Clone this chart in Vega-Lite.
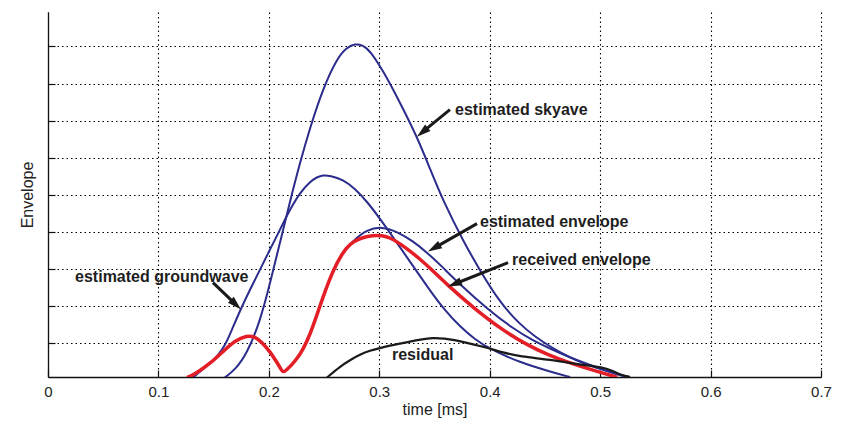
{
  "$schema": "https://vega.github.io/schema/vega-lite/v6.json",
  "width": 773,
  "height": 365,
  "autosize": {"type": "none"},
  "padding": {"left": 48, "top": 12, "right": 30, "bottom": 47},
  "background": "white",
  "config": {
    "view": {"stroke": null},
    "axis": {
      "labelFont": "Liberation Sans",
      "titleFont": "Liberation Sans",
      "labelColor": "#222",
      "titleColor": "#222",
      "titleFontWeight": "normal",
      "domainColor": "#111",
      "domainWidth": 1.3,
      "tickColor": "#111",
      "tickWidth": 1.2,
      "gridColor": "#000",
      "gridDash": [1.5, 3],
      "gridWidth": 1.1,
      "gridOpacity": 1
    }
  },
  "datasets": {
    "curves": [
      {"s": "skywave", "t": 0.1594, "v": 0.051},
      {"s": "skywave", "t": 0.1693, "v": 0.267},
      {"s": "skywave", "t": 0.1802, "v": 0.712},
      {"s": "skywave", "t": 0.1920, "v": 1.576},
      {"s": "skywave", "t": 0.2010, "v": 2.601},
      {"s": "skywave", "t": 0.2101, "v": 3.707},
      {"s": "skywave", "t": 0.2191, "v": 4.814},
      {"s": "skywave", "t": 0.2282, "v": 5.866},
      {"s": "skywave", "t": 0.2373, "v": 6.810},
      {"s": "skywave", "t": 0.2490, "v": 7.863},
      {"s": "skywave", "t": 0.2617, "v": 8.672},
      {"s": "skywave", "t": 0.2699, "v": 8.956},
      {"s": "skywave", "t": 0.2780, "v": 9.077},
      {"s": "skywave", "t": 0.2852, "v": 9.036},
      {"s": "skywave", "t": 0.2916, "v": 8.888},
      {"s": "skywave", "t": 0.3034, "v": 8.349},
      {"s": "skywave", "t": 0.3188, "v": 7.485},
      {"s": "skywave", "t": 0.3341, "v": 6.568},
      {"s": "skywave", "t": 0.3459, "v": 5.704},
      {"s": "skywave", "t": 0.3577, "v": 4.841},
      {"s": "skywave", "t": 0.3758, "v": 3.761},
      {"s": "skywave", "t": 0.3912, "v": 2.952},
      {"s": "skywave", "t": 0.4093, "v": 2.089},
      {"s": "skywave", "t": 0.4274, "v": 1.495},
      {"s": "skywave", "t": 0.4410, "v": 1.171},
      {"s": "skywave", "t": 0.4546, "v": 0.901},
      {"s": "skywave", "t": 0.4727, "v": 0.604},
      {"s": "skywave", "t": 0.4863, "v": 0.429},
      {"s": "skywave", "t": 0.4971, "v": 0.321},
      {"s": "skywave", "t": 0.5116, "v": 0.200},
      {"s": "skywave", "t": 0.5243, "v": 0.078},

      {"s": "groundwave", "t": 0.1313, "v": 0.065},
      {"s": "groundwave", "t": 0.1376, "v": 0.227},
      {"s": "groundwave", "t": 0.1467, "v": 0.443},
      {"s": "groundwave", "t": 0.1539, "v": 0.658},
      {"s": "groundwave", "t": 0.1603, "v": 0.928},
      {"s": "groundwave", "t": 0.1666, "v": 1.360},
      {"s": "groundwave", "t": 0.1739, "v": 1.873},
      {"s": "groundwave", "t": 0.1829, "v": 2.439},
      {"s": "groundwave", "t": 0.1920, "v": 2.979},
      {"s": "groundwave", "t": 0.2010, "v": 3.519},
      {"s": "groundwave", "t": 0.2101, "v": 4.058},
      {"s": "groundwave", "t": 0.2191, "v": 4.598},
      {"s": "groundwave", "t": 0.2282, "v": 5.057},
      {"s": "groundwave", "t": 0.2373, "v": 5.353},
      {"s": "groundwave", "t": 0.2436, "v": 5.475},
      {"s": "groundwave", "t": 0.2490, "v": 5.529},
      {"s": "groundwave", "t": 0.2554, "v": 5.515},
      {"s": "groundwave", "t": 0.2671, "v": 5.407},
      {"s": "groundwave", "t": 0.2780, "v": 5.165},
      {"s": "groundwave", "t": 0.2889, "v": 4.814},
      {"s": "groundwave", "t": 0.3006, "v": 4.355},
      {"s": "groundwave", "t": 0.3124, "v": 3.856},
      {"s": "groundwave", "t": 0.3278, "v": 3.195},
      {"s": "groundwave", "t": 0.3459, "v": 2.412},
      {"s": "groundwave", "t": 0.3595, "v": 1.873},
      {"s": "groundwave", "t": 0.3731, "v": 1.441},
      {"s": "groundwave", "t": 0.3867, "v": 1.090},
      {"s": "groundwave", "t": 0.4003, "v": 0.834},
      {"s": "groundwave", "t": 0.4274, "v": 0.470},
      {"s": "groundwave", "t": 0.4546, "v": 0.227},
      {"s": "groundwave", "t": 0.4727, "v": 0.078},

      {"s": "estimated", "t": 0.1259, "v": 0.065},
      {"s": "estimated", "t": 0.1304, "v": 0.119},
      {"s": "estimated", "t": 0.1376, "v": 0.254},
      {"s": "estimated", "t": 0.1467, "v": 0.443},
      {"s": "estimated", "t": 0.1585, "v": 0.766},
      {"s": "estimated", "t": 0.1693, "v": 1.063},
      {"s": "estimated", "t": 0.1802, "v": 1.198},
      {"s": "estimated", "t": 0.1874, "v": 1.171},
      {"s": "estimated", "t": 0.1938, "v": 1.009},
      {"s": "estimated", "t": 0.2010, "v": 0.766},
      {"s": "estimated", "t": 0.2074, "v": 0.470},
      {"s": "estimated", "t": 0.2101, "v": 0.335},
      {"s": "estimated", "t": 0.2128, "v": 0.186},
      {"s": "estimated", "t": 0.2164, "v": 0.281},
      {"s": "estimated", "t": 0.2210, "v": 0.416},
      {"s": "estimated", "t": 0.2255, "v": 0.577},
      {"s": "estimated", "t": 0.2309, "v": 0.820},
      {"s": "estimated", "t": 0.2373, "v": 1.225},
      {"s": "estimated", "t": 0.2436, "v": 1.765},
      {"s": "estimated", "t": 0.2508, "v": 2.385},
      {"s": "estimated", "t": 0.2581, "v": 2.952},
      {"s": "estimated", "t": 0.2662, "v": 3.411},
      {"s": "estimated", "t": 0.2762, "v": 3.761},
      {"s": "estimated", "t": 0.2889, "v": 4.058},
      {"s": "estimated", "t": 0.3025, "v": 4.139},
      {"s": "estimated", "t": 0.3160, "v": 4.004},
      {"s": "estimated", "t": 0.3305, "v": 3.748},
      {"s": "estimated", "t": 0.3432, "v": 3.438},
      {"s": "estimated", "t": 0.3550, "v": 3.114},
      {"s": "estimated", "t": 0.3731, "v": 2.574},
      {"s": "estimated", "t": 0.3975, "v": 1.927},
      {"s": "estimated", "t": 0.4211, "v": 1.387},
      {"s": "estimated", "t": 0.4392, "v": 1.063},
      {"s": "estimated", "t": 0.4546, "v": 0.847},
      {"s": "estimated", "t": 0.4727, "v": 0.604},
      {"s": "estimated", "t": 0.4971, "v": 0.335},
      {"s": "estimated", "t": 0.5180, "v": 0.119},
      {"s": "estimated", "t": 0.5270, "v": 0.078},

      {"s": "received", "t": 0.1259, "v": 0.065},
      {"s": "received", "t": 0.1304, "v": 0.119},
      {"s": "received", "t": 0.1376, "v": 0.254},
      {"s": "received", "t": 0.1467, "v": 0.443},
      {"s": "received", "t": 0.1585, "v": 0.766},
      {"s": "received", "t": 0.1693, "v": 1.063},
      {"s": "received", "t": 0.1802, "v": 1.198},
      {"s": "received", "t": 0.1874, "v": 1.171},
      {"s": "received", "t": 0.1938, "v": 1.009},
      {"s": "received", "t": 0.2010, "v": 0.766},
      {"s": "received", "t": 0.2074, "v": 0.470},
      {"s": "received", "t": 0.2101, "v": 0.335},
      {"s": "received", "t": 0.2128, "v": 0.186},
      {"s": "received", "t": 0.2164, "v": 0.281},
      {"s": "received", "t": 0.2210, "v": 0.416},
      {"s": "received", "t": 0.2255, "v": 0.577},
      {"s": "received", "t": 0.2309, "v": 0.820},
      {"s": "received", "t": 0.2373, "v": 1.225},
      {"s": "received", "t": 0.2436, "v": 1.765},
      {"s": "received", "t": 0.2508, "v": 2.385},
      {"s": "received", "t": 0.2581, "v": 2.952},
      {"s": "received", "t": 0.2662, "v": 3.411},
      {"s": "received", "t": 0.2735, "v": 3.680},
      {"s": "received", "t": 0.2825, "v": 3.829},
      {"s": "received", "t": 0.2943, "v": 3.910},
      {"s": "received", "t": 0.3025, "v": 3.896},
      {"s": "received", "t": 0.3097, "v": 3.842},
      {"s": "received", "t": 0.3188, "v": 3.680},
      {"s": "received", "t": 0.3278, "v": 3.478},
      {"s": "received", "t": 0.3369, "v": 3.262},
      {"s": "received", "t": 0.3459, "v": 3.019},
      {"s": "received", "t": 0.3613, "v": 2.574},
      {"s": "received", "t": 0.3849, "v": 1.954},
      {"s": "received", "t": 0.4120, "v": 1.333},
      {"s": "received", "t": 0.4365, "v": 0.901},
      {"s": "received", "t": 0.4546, "v": 0.658},
      {"s": "received", "t": 0.4664, "v": 0.523},
      {"s": "received", "t": 0.4971, "v": 0.227},
      {"s": "received", "t": 0.5153, "v": 0.078},

      {"s": "residual", "t": 0.2526, "v": 0.065},
      {"s": "residual", "t": 0.2644, "v": 0.362},
      {"s": "residual", "t": 0.2735, "v": 0.537},
      {"s": "residual", "t": 0.2825, "v": 0.685},
      {"s": "residual", "t": 0.2916, "v": 0.793},
      {"s": "residual", "t": 0.3006, "v": 0.861},
      {"s": "residual", "t": 0.3097, "v": 0.928},
      {"s": "residual", "t": 0.3188, "v": 0.982},
      {"s": "residual", "t": 0.3278, "v": 1.036},
      {"s": "residual", "t": 0.3369, "v": 1.090},
      {"s": "residual", "t": 0.3486, "v": 1.144},
      {"s": "residual", "t": 0.3595, "v": 1.117},
      {"s": "residual", "t": 0.3667, "v": 1.090},
      {"s": "residual", "t": 0.3821, "v": 0.982},
      {"s": "residual", "t": 0.3975, "v": 0.874},
      {"s": "residual", "t": 0.4120, "v": 0.739},
      {"s": "residual", "t": 0.4274, "v": 0.631},
      {"s": "residual", "t": 0.4546, "v": 0.550},
      {"s": "residual", "t": 0.4818, "v": 0.416},
      {"s": "residual", "t": 0.4971, "v": 0.362},
      {"s": "residual", "t": 0.5062, "v": 0.308},
      {"s": "residual", "t": 0.5125, "v": 0.227},
      {"s": "residual", "t": 0.5180, "v": 0.146},
      {"s": "residual", "t": 0.5270, "v": 0.078}
    ],
    "labels": [
      {"label": "estimated skyave", "t": 0.3686, "v": 7.296},
      {"label": "estimated envelope", "t": 0.3912, "v": 4.274},
      {"label": "received envelope", "t": 0.4202, "v": 3.249},
      {"label": "estimated groundwave", "t": 0.0245, "v": 2.790},
      {"label": "residual", "t": 0.3115, "v": 0.685}
    ],
    "arrows": [
      {"id": "sky", "t": 0.3640, "v": 7.296, "t2": 0.3390, "v2": 6.686},
      {"id": "env", "t": 0.3885, "v": 4.220, "t2": 0.3496, "v2": 3.559},
      {"id": "rec", "t": 0.4166, "v": 3.168, "t2": 0.3681, "v2": 2.590},
      {"id": "gnd", "t": 0.1494, "v": 2.628, "t2": 0.1702, "v2": 2.032}
    ]
  },
  "encoding": {
    "x": {
      "field": "t",
      "type": "quantitative",
      "scale": {"domain": [0, 0.7], "nice": false, "zero": false},
      "axis": {
        "values": [0, 0.1, 0.2, 0.3, 0.4, 0.5, 0.6, 0.7],
        "format": ".1~f",
        "grid": true,
        "tickSize": -7,
        "labelPadding": 14,
        "labelFontSize": 15,
        "labelFlush": false,
        "title": "time [ms]",
        "titleFontSize": 16,
        "titlePadding": 2
      }
    },
    "y": {
      "field": "v",
      "type": "quantitative",
      "scale": {"domain": [0.08, 9.93], "nice": false, "zero": false},
      "axis": {
        "values": [1, 2, 3, 4, 5, 6, 7, 8, 9],
        "labels": false,
        "grid": true,
        "tickSize": -7,
        "title": "Envelope",
        "titleFontSize": 16,
        "titlePadding": 12
      }
    }
  },
  "layer": [
    {
      "data": {"name": "curves"},
      "transform": [{"filter": "datum.s === 'skywave' || datum.s === 'groundwave' || datum.s === 'estimated'"}],
      "mark": {"type": "line", "interpolate": "basis", "clip": true, "color": "#2c2c8c", "strokeWidth": 2},
      "encoding": {"detail": {"field": "s"}}
    },
    {
      "data": {"name": "curves"},
      "transform": [{"filter": "datum.s === 'received'"}],
      "mark": {"type": "line", "interpolate": "basis", "clip": true, "color": "#e41e26", "strokeWidth": 3.5},
      "encoding": {}
    },
    {
      "data": {"name": "curves"},
      "transform": [{"filter": "datum.s === 'residual'"}],
      "mark": {"type": "line", "interpolate": "basis", "clip": true, "color": "#1a1a1a", "strokeWidth": 2.2},
      "encoding": {}
    },
    {
      "data": {"name": "arrows"},
      "mark": {"type": "rule", "color": "#1a1a1a", "strokeWidth": 3},
      "encoding": {
        "x2": {"field": "t2"},
        "y2": {"field": "v2"}
      }
    },
    {
      "data": {"name": "arrows"},
      "transform": [{"filter": "datum.id === 'sky'"}],
      "mark": {"type": "point", "shape": "M0,-1L0.6,1L-0.6,1Z", "filled": true, "color": "#1a1a1a", "opacity": 1, "size": 196, "angle": 230.7},
      "encoding": {"x": {"field": "t2", "type": "quantitative"}, "y": {"field": "v2", "type": "quantitative"}}
    },
    {
      "data": {"name": "arrows"},
      "transform": [{"filter": "datum.id === 'env'"}],
      "mark": {"type": "point", "shape": "M0,-1L0.6,1L-0.6,1Z", "filled": true, "color": "#1a1a1a", "opacity": 1, "size": 196, "angle": 240.3},
      "encoding": {"x": {"field": "t2", "type": "quantitative"}, "y": {"field": "v2", "type": "quantitative"}}
    },
    {
      "data": {"name": "arrows"},
      "transform": [{"filter": "datum.id === 'rec'"}],
      "mark": {"type": "point", "shape": "M0,-1L0.6,1L-0.6,1Z", "filled": true, "color": "#1a1a1a", "opacity": 1, "size": 196, "angle": 248.2},
      "encoding": {"x": {"field": "t2", "type": "quantitative"}, "y": {"field": "v2", "type": "quantitative"}}
    },
    {
      "data": {"name": "arrows"},
      "transform": [{"filter": "datum.id === 'gnd'"}],
      "mark": {"type": "point", "shape": "M0,-1L0.6,1L-0.6,1Z", "filled": true, "color": "#1a1a1a", "opacity": 1, "size": 196, "angle": 134.0},
      "encoding": {"x": {"field": "t2", "type": "quantitative"}, "y": {"field": "v2", "type": "quantitative"}}
    },
    {
      "data": {"name": "labels"},
      "mark": {"type": "text", "align": "left", "baseline": "middle", "font": "Liberation Sans", "fontWeight": "bold", "fontSize": 16, "color": "#1e1e1e"},
      "encoding": {"text": {"field": "label"}}
    }
  ]
}
